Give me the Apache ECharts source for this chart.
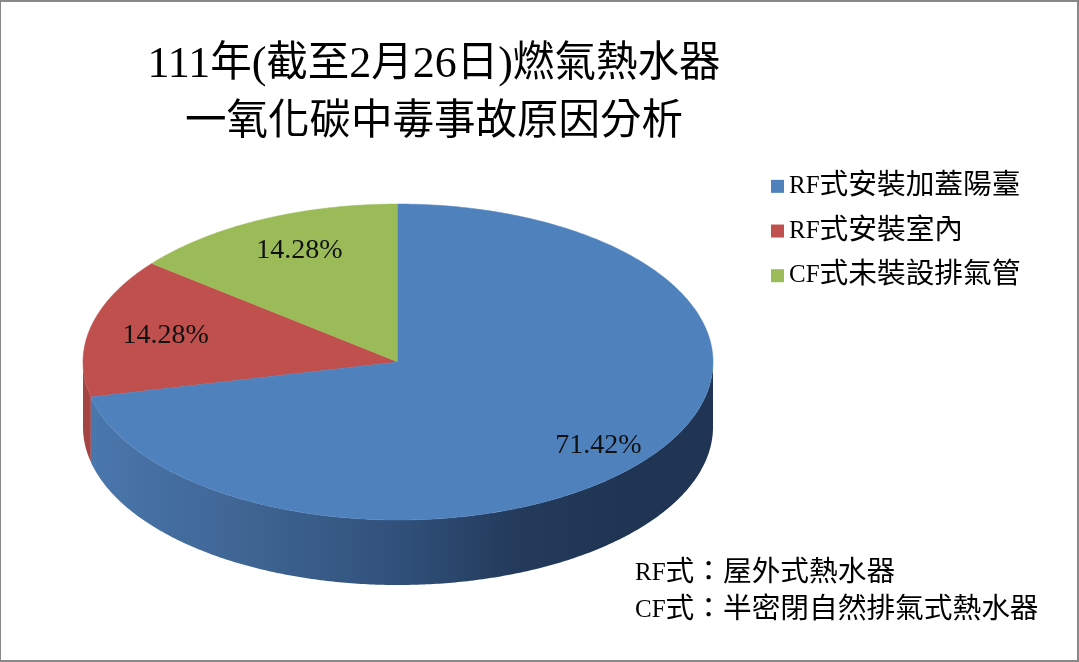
<!DOCTYPE html>
<html><head><meta charset="utf-8">
<style>html,body{margin:0;padding:0;background:#fff}#c{width:1079px;height:662px}</style>
<script src="https://cdn.jsdelivr.net/npm/echarts@6/dist/echarts.min.js"></script>
</head><body><div id="c"></div>
<script>
const categories = ['RF式安裝加蓋陽臺', 'RF式安裝室內', 'CF式未裝設排氣管'];
const values = [71.42, 14.28, 14.28];
const valueLabels = ['71.42%', '14.28%', '14.28%'];
const titleLines = ['111年(截至2月26日)燃氣熱水器', '一氧化碳中毒事故原因分析'];
const notes = ['RF式：屋外式熱水器', 'CF式：半密閉自然排氣式熱水器'];
const colors = ['#4f81bd', '#c0504d', '#9bbb59'];

const FONT = '"Liberation Serif","Noto Sans CJK TC"';
const cx = 398, cy = 362, rx = 315, ry = 158, depth = 65;
const labelPos = [[.81, 1, 4], [.75, -2, 0], [.81, 12, 4]];
const total = values.reduce((a, b) => a + b, 0);
const px = (t, d) => [cx + rx * Math.sin(t), cy - ry * Math.cos(t) + (d || 0)];
function arc(a, b, d) {
  const n = Math.max(2, Math.ceil((b - a) / 0.01)), out = [];
  for (let i = 0; i <= n; i++) out.push(px(a + (b - a) * i / n, d));
  return out;
}
const wallFill = [
  new echarts.graphic.LinearGradient(90, 0, 713, 0, [
    {offset: 0, color: '#4a77ad'}, {offset: .25, color: '#3f6593'},
    {offset: .5, color: '#30507a'}, {offset: .68, color: '#243b5c'},
    {offset: .85, color: '#1f3553'}, {offset: 1, color: '#1f3553'}
  ], true),
  '#a54543', '#86a04c'
];
function renderSlice(i) {
  return function (params, api) {
    const val = api.value(0);
    let before = 0;
    for (let k = 0; k < i; k++) before += values[k];
    const a = before / total * 2 * Math.PI, b = a + val / total * 2 * Math.PI;
    const kids = [];
    const wa = Math.max(a, Math.PI / 2), wb = Math.min(b, 1.5 * Math.PI);
    if (wb > wa) {
      kids.push({type: 'polygon', shape: {points: arc(wa, wb, 0).concat(arc(wa, wb, depth).reverse())},
        style: {fill: wallFill[i], stroke: null}});
    }
    kids.push({type: 'polygon', shape: {points: [[cx, cy]].concat(arc(a, b, 0))},
      style: {fill: colors[i], stroke: colors[i], lineWidth: .5}});
    const mid = (a + b) / 2, p = labelPos[i];
    kids.push({type: 'text', z2: 10, style: {
      x: cx + rx * p[0] * Math.sin(mid) + p[1], y: cy - ry * p[0] * Math.cos(mid) + p[2],
      text: valueLabels[i], font: '28px "Liberation Serif"', fill: '#111',
      align: 'center', verticalAlign: 'middle'}});
    return {type: 'group', children: kids};
  };
}
// split Latin and CJK runs so the narrow Latin of the original can be approximated
const latinHead = s => s.replace(/^([A-Z]+)/, '{lat|$1}');
const richLat = {lat: {fontFamily: '"Liberation Serif"', fontSize: 25, color: '#000'}};
const titleMarkup = s => s.replace(/([0-9()]+)/g, '{d|$1}');
const richTitle = {d: {fontFamily: '"Liberation Serif"', fontSize: 44, color: '#000', lineHeight: 58}};

const chart = echarts.init(document.getElementById('c'), null, {renderer: 'canvas'});
chart.setOption({
  animation: false,
  backgroundColor: '#fff',
  color: colors,
  title: [{
    text: titleLines.map(titleMarkup).join('\n'), left: 429, top: 31, textAlign: 'center',
    textStyle: {fontFamily: FONT, fontSize: 41.5, fontWeight: 'normal', color: '#000', lineHeight: 58, rich: richTitle}
  }],
  legend: {
    orient: 'vertical', left: 771, top: 172, padding: 0, itemWidth: 13, itemHeight: 13, itemGap: 16, icon: 'rect',
    data: categories, selectedMode: false,
    formatter: latinHead,
    textStyle: {fontFamily: FONT, fontSize: 28.7, color: '#000', lineHeight: 28, rich: richLat}
  },
  series: categories.map((name, i) => ({
    type: 'custom', coordinateSystem: 'none', name, data: [values[i]],
    itemStyle: {color: colors[i]}, renderItem: renderSlice(i), silent: true, z: 2 + (i === 0 ? 1 : 0)
  })),
  graphic: [
    {type: 'rect', z: 100, shape: {x: 0, y: 1, width: 1078, height: 660}, style: {fill: 'none', stroke: '#888', lineWidth: 2}},
    {type: 'text', z: 100, left: 635, top: 559, style: {text: latinHead(notes[0]), font: '28.7px ' + FONT, fill: '#000', rich: richLat}},
    {type: 'text', z: 100, left: 635, top: 596, style: {text: latinHead(notes[1]), font: '28.7px ' + FONT, fill: '#000', rich: richLat}}
  ]
});
</script></body></html>
